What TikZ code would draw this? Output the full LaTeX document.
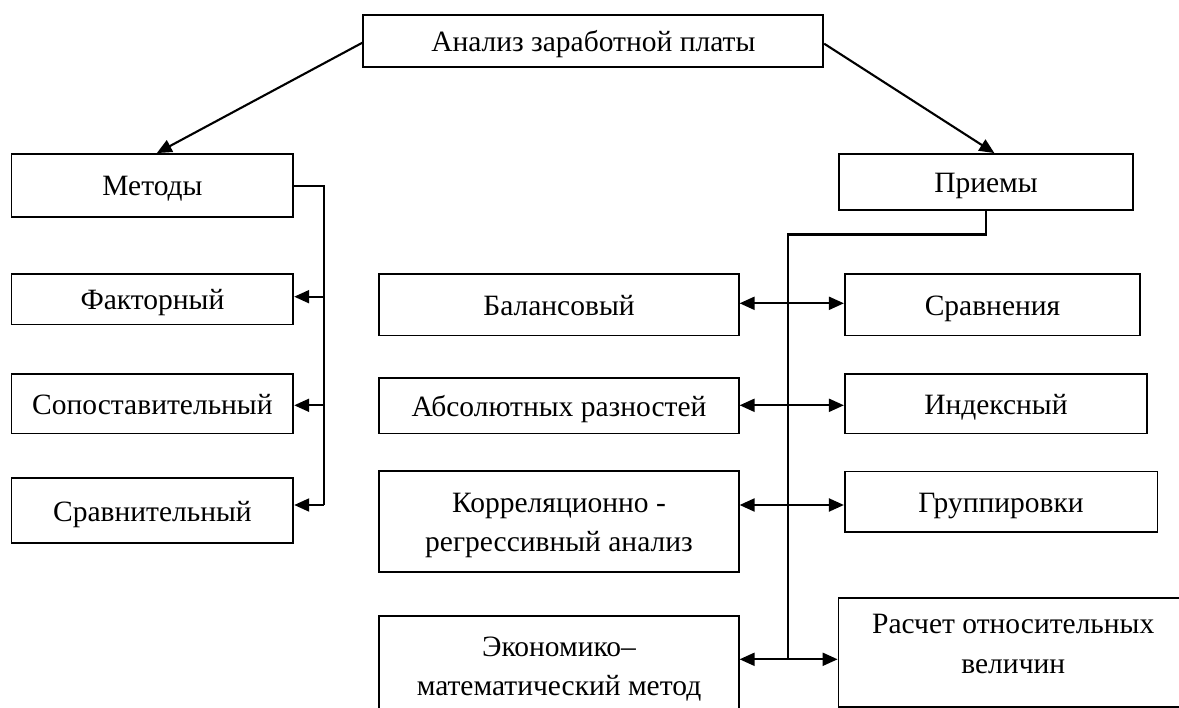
\documentclass[tikz,border=0pt]{standalone}
\usepackage{fontspec}
\setmainfont{Liberation Serif}
\usetikzlibrary{arrows.meta}
\begin{document}
\begin{tikzpicture}[x=1pt,y=-1pt,
  base/.style={draw, line width=1.8pt, inner sep=0pt,
    font=\fontsize{29.5}{39.5}\selectfont},
  box/.style={base, align=center},
  one/.style={base, text height=23.5pt, text depth=2.5pt},
  conn/.style={line width=2.1pt},
  arr/.style={conn, -{Triangle[length=15pt,width=13pt]}},
  darr/.style={conn, {Triangle[length=15pt,width=13pt]}-{Triangle[length=15pt,width=13pt]}}]
\useasboundingbox (0,0) rectangle (1179,708);
\clip (0,0) rectangle (1179,708);
% top
\node[one, minimum width=460pt, minimum height=52pt] (top) at (593.3,41) {Анализ заработной платы};
% left column
\node[one, minimum width=281.8pt, minimum height=63pt] (met) at (152.4,185.5) {Методы};
\node[one, minimum width=281.8pt, minimum height=50.5pt] (fak) at (152.4,299.25) {Факторный};
\node[one, minimum width=281.8pt, minimum height=59.5pt] (sop) at (152.4,403.75) {Сопоставительный};
\node[one, minimum width=281.8pt, minimum height=65.3pt] (srv) at (152.4,510.65) {Сравнительный};
% middle column
\node[one, minimum width=359.4pt, minimum height=61.5pt] (bal) at (559,304.75) {Балансовый};
\node[one, minimum width=359.4pt, minimum height=55.5pt] (abs) at (559,405.75) {Абсолютных разностей};
\node[box, minimum width=359.4pt, minimum height=100.5pt] (kor) at (559,521.45) {\rule{0pt}{27pt}Корреляционно -\\регрессивный анализ};
\node[box, minimum width=359.4pt, minimum height=96.6pt] (eko) at (559,664) {\rule{0pt}{29.5pt}Экономико–\\математический метод};
% right column
\node[one, minimum width=294.7pt, minimum height=56pt] (pri) at (986,182) {Приемы};
\node[one, minimum width=295.4pt, minimum height=61.5pt] (sra) at (992.5,304.75) {Сравнения};
\node[one, minimum width=302.2pt, minimum height=59.8pt] (ind) at (995.9,403.6) {Индексный};
\node[one, minimum width=312.6pt, minimum height=60.2pt] (gru) at (1001.1,501.6) {Группировки};
\node[box, minimum width=349.5pt, minimum height=109.3pt] (ras) at (1013.25,652.35) {Расчет относительных\\величин\rule[-17pt]{0pt}{17pt}};
% top arrows
\draw[arr] ([yshift=-1.7pt]top.west) -- ([xshift=4.4pt]met.north);
\draw[arr] ([yshift=-2.7pt]top.east) -- ([xshift=8.4pt]pri.north);
% left spine
\coordinate (l0) at (323.7,185.7);
\coordinate (l1) at (323.7,296.7);
\coordinate (l2) at (323.7,405.3);
\coordinate (l3) at (323.7,505);
\draw[conn] (met.east |- l0) -- (l0) -- (l3);
\draw[arr] (l1) -- (fak.east |- l1);
\draw[arr] (l2) -- (sop.east |- l2);
\draw[arr] (l3) -- (srv.east |- l3);
% right spine
\coordinate (r0) at (788,234.5);
\coordinate (r1) at (788,303.3);
\coordinate (r2) at (788,405.3);
\coordinate (r3) at (788,505);
\coordinate (r4) at (788,659.3);
\draw[conn] (pri.south) |- (r0) -- (r4);
\draw[darr] (bal.east |- r1) -- (sra.west |- r1);
\draw[darr] (abs.east |- r2) -- (ind.west |- r2);
\draw[darr] (kor.east |- r3) -- (gru.west |- r3);
\draw[darr] (eko.east |- r4) -- (ras.west |- r4);
\end{tikzpicture}
\end{document}
